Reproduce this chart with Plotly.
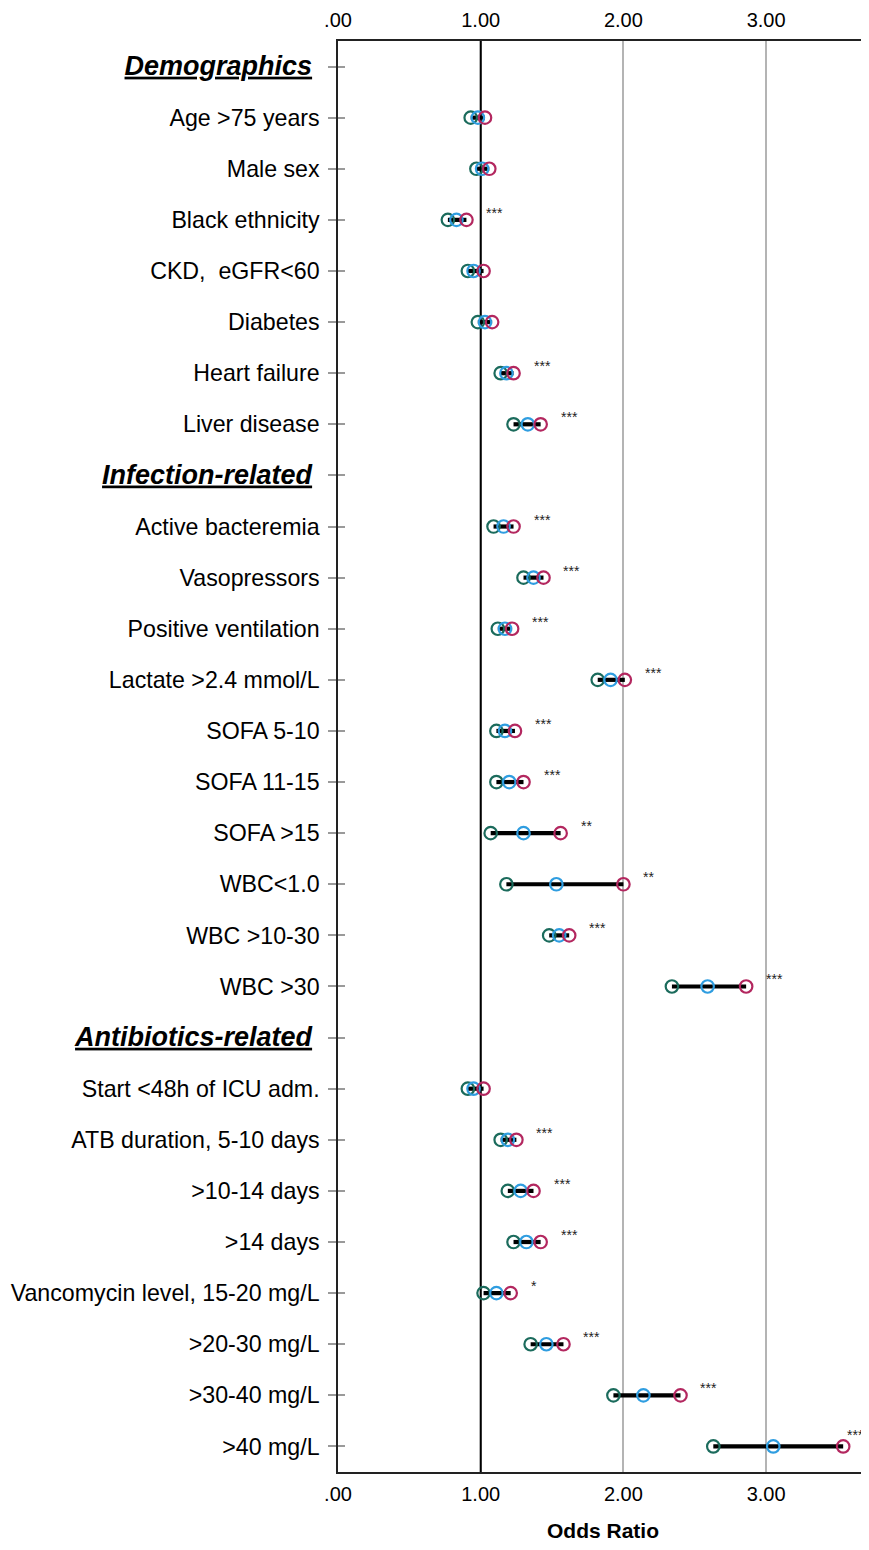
import plotly.graph_objects as go

labels = ["Demographics", "Age &gt;75 years", "Male sex", "Black ethnicity", "CKD,  eGFR&lt;60",
          "Diabetes", "Heart failure", "Liver disease", "Infection-related", "Active bacteremia",
          "Vasopressors", "Positive ventilation", "Lactate &gt;2.4 mmol/L", "SOFA 5-10", "SOFA 11-15",
          "SOFA &gt;15", "WBC&lt;1.0", "WBC &gt;10-30", "WBC &gt;30", "Antibiotics-related",
          "Start &lt;48h of ICU adm.", "ATB duration, 5-10 days", "&gt;10-14 days", "&gt;14 days",
          "Vancomycin level, 15-20 mg/L", "&gt;20-30 mg/L", "&gt;30-40 mg/L", "&gt;40 mg/L"]
headers = ["Demographics", "Infection-related", "Antibiotics-related"]

lower = [None, 0.93, 0.97, 0.77, 0.91, 0.98, 1.14, 1.23, None, 1.09, 1.30, 1.12, 1.82, 1.11, 1.11,
         1.07, 1.18, 1.48, 2.34, None, 0.91, 1.14, 1.19, 1.23, 1.02, 1.35, 1.93, 2.63]
point = [None, 0.98, 1.01, 0.83, 0.95, 1.03, 1.18, 1.33, None, 1.16, 1.37, 1.17, 1.91, 1.17, 1.20,
         1.30, 1.53, 1.55, 2.59, None, 0.95, 1.19, 1.28, 1.32, 1.11, 1.46, 2.14, 3.05]
upper = [None, 1.03, 1.06, 0.90, 1.02, 1.08, 1.23, 1.42, None, 1.23, 1.44, 1.22, 2.01, 1.24, 1.30,
         1.56, 2.00, 1.62, 2.86, None, 1.02, 1.25, 1.37, 1.42, 1.21, 1.58, 2.40, 3.54]
sig = ["", "", "", "***", "", "", "***", "***", "", "***", "***", "***", "***", "***", "***",
       "**", "**", "***", "***", "", "", "***", "***", "***", "*", "***", "***", "***"]

x_ticks = [0, 1, 2, 3]
x_ticktext = [".00", "1.00", "2.00", "3.00"]
ref_line = 1

GREEN = "#1b6b5c"
BLUE = "#2f9de0"
RED = "#b3275f"
FONT = "Liberation Sans, Arial, sans-serif"

ys = list(range(len(labels)))

ticktext = []
for lab in labels:
    if lab in headers:
        ticktext.append('<span style="font-size:27px"><b><i><u>' + lab + '</u></i>&nbsp;</b></span>')
    else:
        ticktext.append(lab)

xr = [0, 3.714]
yr = [len(labels) - 0.5, -0.5]
PLOT_W = 530  # plot area width in px

fig = go.Figure()

# reference line at OR = 1
fig.add_trace(go.Scatter(x=[ref_line, ref_line], y=yr, mode="lines",
                         line=dict(color="black", width=2), hoverinfo="skip", showlegend=False))

# CI bars
bx, by = [], []
for y, lo, hi in zip(ys, lower, upper):
    if lo is None:
        continue
    bx += [lo, hi, None]
    by += [y, y, None]
fig.add_trace(go.Scatter(x=bx, y=by, mode="lines", line=dict(color="black", width=4.2),
                         hoverinfo="skip", showlegend=False))

for vals, col in [(lower, GREEN), (point, BLUE), (upper, RED)]:
    fig.add_trace(go.Scatter(x=vals, y=ys, mode="markers",
                             marker=dict(symbol="circle-open", size=12.5, color=col,
                                         line=dict(color=col, width=2.2)),
                             hoverinfo="skip", showlegend=False))

# invisible trace to activate secondary axes
fig.add_trace(go.Scatter(x=point, y=ys, xaxis="x2", yaxis="y2", mode="markers",
                         marker=dict(opacity=0), hoverinfo="skip", showlegend=False))

for y, hi, s in zip(ys, upper, sig):
    if s:
        room = PLOT_W - hi / xr[1] * PLOT_W - 23
        xs = min(18, room)
        ysh = 7 + (18 - xs) * 0.3
        fig.add_annotation(x=hi, y=y, text=s, showarrow=False, xanchor="left", yanchor="middle",
                           xshift=xs, yshift=ysh,
                           font=dict(size=14, color="#222", family=FONT))

# page body adds an 8px margin on every side; size the figure so the page does not scroll
fig.update_layout(
    width=861, height=1534,
    margin=dict(l=330, r=1, t=33, b=70),
    paper_bgcolor="white", plot_bgcolor="white",
    font=dict(family=FONT, color="black"),
    xaxis=dict(range=xr, tickvals=x_ticks, ticktext=x_ticktext, showgrid=True,
               gridcolor="#b4b4b4", gridwidth=1.5, zeroline=False, showline=True,
               linecolor="#222", linewidth=1.5, ticks="", tickfont=dict(size=20),
               ticklabelstandoff=3, automargin=False,
               title=dict(text="<b>Odds Ratio</b>", font=dict(size=21), standoff=23)),
    xaxis2=dict(range=xr, overlaying="x", side="top", anchor="y", tickvals=x_ticks,
                ticktext=x_ticktext, showgrid=False, zeroline=False, showline=True,
                linecolor="#222", linewidth=1.5, ticks="", tickfont=dict(size=20),
                ticklabelstandoff=4, automargin=False),
    yaxis=dict(range=yr, tickvals=ys, ticktext=ticktext, ticks="outside", ticklen=8,
               tickcolor="#9a9a9a", tickwidth=1.5, showgrid=False, zeroline=False,
               showline=True, linecolor="#222", linewidth=1.5, tickfont=dict(size=23.2),
               ticklabelstandoff=4, automargin=False),
    yaxis2=dict(range=yr, overlaying="y", side="left", anchor="x", tickvals=ys,
                ticks="inside", ticklen=7, tickcolor="#9a9a9a", tickwidth=1.5,
                showticklabels=False, showgrid=False, zeroline=False, showline=False,
                automargin=False),
)

fig.write_html("out.html")
